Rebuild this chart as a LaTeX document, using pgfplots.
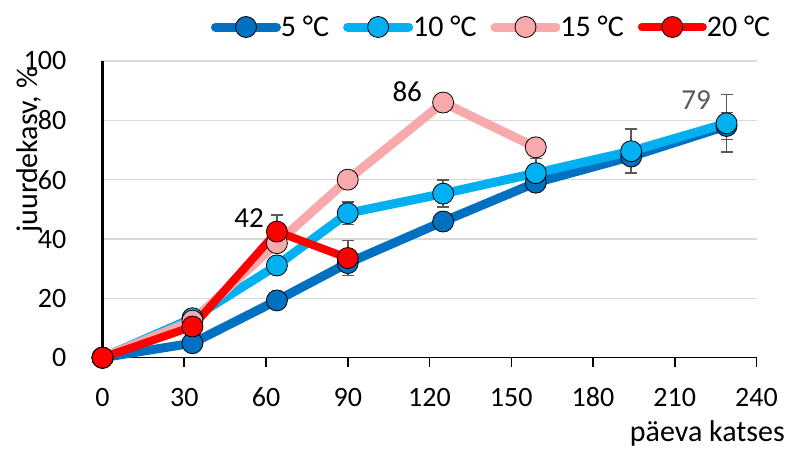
\documentclass[border=0pt]{standalone}
\usepackage{fontspec}
\setmainfont{Carlito}
\usepackage{pgfplots}
\pgfplotsset{compat=1.18}
\definecolor{c5}{HTML}{0070C0}
\definecolor{c10}{HTML}{00B0F0}
\definecolor{c15}{HTML}{F8A9AC}
\definecolor{c20}{HTML}{FF0000}
\definecolor{gridc}{HTML}{D9D9D9}
\definecolor{errc}{HTML}{595959}
\pgfplotstableread{
x y e
0 0 0
33 4.9 0
64 19.3 0
90 31.9 0
125 45.9 0
159 59.0 0
194 67.8 0
229 78.1 4.5
}\tfive
\pgfplotstableread{
x y e
0 0 0
33 13.3 0
64 31.1 0
90 48.7 3.8
125 55.3 4.5
159 62.2 5
194 69.6 7.4
229 79.0 9.7
}\tten
\pgfplotstableread{
x y e
0 0 0
33 12.5 0
64 38.6 0
90 60.0 0
125 86.0 0
159 70.9 0
}\tfifteen
\pgfplotstableread{
x y e
0 0 0
33 10.5 0
64 42.5 5.6
90 33.6 5.9
}\ttwenty
\begin{document}
\begin{tikzpicture}
\useasboundingbox (-102.5pt,-90.3pt) rectangle (684.5pt,357.7pt);
\begin{axis}[
  at={(0pt,0pt)}, anchor=south west,
  scale only axis, width=654pt, height=296.7pt,
  xmin=0, xmax=240, ymin=0, ymax=100,
  xtick={0,30,...,240}, ytick={0,20,...,100},
  axis lines*=left,
  x axis line style={-, black, line width=1.5pt},
  y axis line style={-, black, line width=2.5pt},
  ymajorgrids, grid style={gridc, line width=1.5pt},
  tick align=outside, major tick length=9pt,
  xtick style={black, line width=1.5pt},
  ytick style={draw=none},
  /pgf/number format/assume math mode=true,
  ticklabel style={font=\fontsize{28}{34}\selectfont},
  xticklabel style={anchor=base, inner sep=0pt, yshift=-39.8pt},
  yticklabel style={anchor=east, inner sep=0pt, xshift=-27pt},
  clip=false,
  xlabel={päeva katses},
  ylabel={juurdekasv, \%},
  every axis x label/.style={at={(axis description cs:1,0)}, anchor=base east, xshift=28.5pt, yshift=-83.3pt, inner sep=0pt, font=\fontsize{30}{36}\selectfont},
  every axis y label/.style={at={(axis description cs:-0.1109,0.7)}, rotate=90, anchor=center, inner sep=0pt, font=\fontsize{30}{36}\selectfont},
  legend columns=4,
  legend style={at={(axis description cs:0.1659,1.1146)}, anchor=west, draw=none, fill=none, inner sep=0pt, outer sep=0pt, font=\fontsize{30}{36}\selectfont, column sep=0pt, /tikz/every even column/.append style={column sep=14pt}, nodes={inner sep=0pt}},
  legend image code/.code={\draw[mark repeat=2,mark phase=2,#1] plot coordinates {(0pt,0pt) (30.5pt,0pt) (61pt,0pt)};},
  every axis plot/.append style={line join=round, line cap=round},
]
\addplot[c5, line width=9pt, mark=*, mark size=10.5pt, mark options={fill=c5, draw=black, line width=0.8pt},
  error bars/.cd, y dir=both, y explicit, error bar style={errc, line width=1.6pt}, error mark options={errc, line width=1.6pt, mark size=6pt, rotate=90}]
  table[x=x, y=y, y error=e] {\tfive};
\addlegendentry{5 °C}
\addplot[c10, line width=9pt, mark=*, mark size=10.5pt, mark options={fill=c10, draw=black, line width=0.8pt},
  error bars/.cd, y dir=both, y explicit, error bar style={errc, line width=1.6pt}, error mark options={errc, line width=1.6pt, mark size=6pt, rotate=90}]
  table[x=x, y=y, y error=e] {\tten};
\addlegendentry{10 °C}
\addplot[c15, line width=9pt, mark=*, mark size=10.5pt, mark options={fill=c15, draw=black, line width=0.8pt},
  error bars/.cd, y dir=both, y explicit, error bar style={errc, line width=1.6pt}, error mark options={errc, line width=1.6pt, mark size=6pt, rotate=90}]
  table[x=x, y=y, y error=e] {\tfifteen};
\addlegendentry{15 °C}
\addplot[c20, line width=8pt, mark=*, mark size=10.5pt, mark options={fill=c20, draw=black, line width=0.8pt},
  error bars/.cd, y dir=both, y explicit, error bar style={errc, line width=1.6pt}, error mark options={errc, line width=1.6pt, mark size=6pt, rotate=90}]
  table[x=x, y=y, y error=e] {\ttwenty};
\addlegendentry{20 °C}
\node[anchor=base east, inner sep=0pt, font=\fontsize{29}{35}\selectfont] at (axis cs:64,42.5) [xshift=-12.9pt, yshift=4.6pt] {42};
\node[anchor=base east, inner sep=0pt, font=\fontsize{29}{35}\selectfont] at (axis cs:125,86) [xshift=-21pt, yshift=1.5pt] {86};
\node[anchor=base east, inner sep=0pt, text=errc, font=\fontsize{29}{35}\selectfont] at (axis cs:229,79) [xshift=-15.5pt, yshift=14.3pt] {79};
\end{axis}
\end{tikzpicture}
\end{document}
